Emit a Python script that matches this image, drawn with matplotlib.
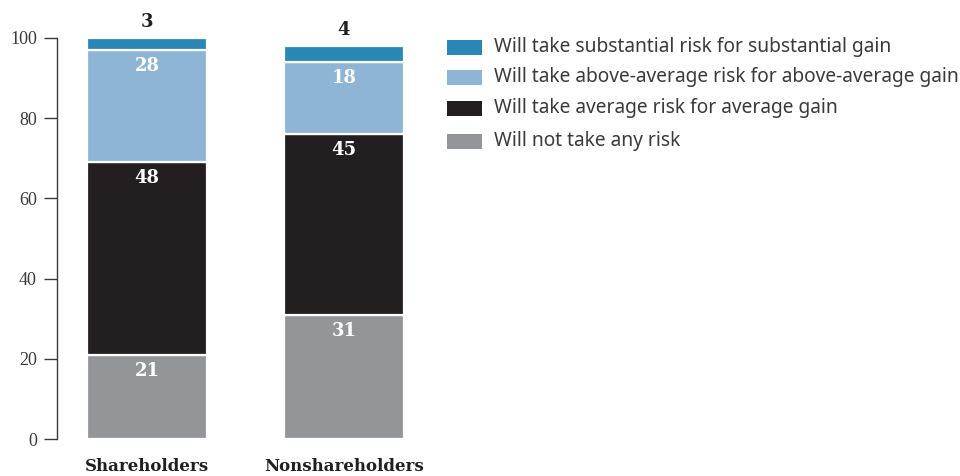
import matplotlib
matplotlib.use("Agg")
import matplotlib.pyplot as plt
from matplotlib.patches import Rectangle

groups = ["Shareholders", "Nonshareholders"]
categories = [
    "Will not take any risk",
    "Will take average risk for average gain",
    "Will take above-average risk for above-average gain",
    "Will take substantial risk for substantial gain",
]
no_risk = [21, 31]
average_risk = [48, 45]
above_average_risk = [28, 18]
substantial_risk = [3, 4]
series = [no_risk, average_risk, above_average_risk, substantial_risk]
colors = ["#939598", "#231f20", "#8fb5d6", "#2a87b5"]
yticks = [0, 20, 40, 60, 80, 100]

W, H = 960, 476
fig = plt.figure(figsize=(W / 100, H / 100), dpi=100)
ax = fig.add_axes([57 / W, 37 / H, 373 / W, 401 / H])

x = list(range(len(groups)))
bottoms = [0] * len(groups)
containers = []
for vals, col in zip(series, colors):
    bc = ax.bar(x, vals, width=0.609, bottom=bottoms, color=col,
                edgecolor="white", linewidth=1.6, zorder=2)
    containers.append(bc)
    bottoms = [b + v for b, v in zip(bottoms, vals)]

ax.set_xlim(-0.457, 1.437)
ax.set_ylim(0, 100)

# value labels: inside near top of each segment, the thin top segment above the bar
for i, (vals, bc) in enumerate(zip(series, containers)):
    for j, (v, rect) in enumerate(zip(vals, bc)):
        top = rect.get_y() + rect.get_height()
        cx = rect.get_x() + rect.get_width() / 2
        if i == len(series) - 1:
            ax.annotate(str(v), (cx, top), xytext=(0, 11.5), textcoords="offset points",
                        ha="center", va="center", fontsize=13, fontweight="bold",
                        family="DejaVu Serif", color="#231f20", annotation_clip=False)
        else:
            ax.annotate(str(v), (cx, top), xytext=(0, -11.5), textcoords="offset points",
                        ha="center", va="center", fontsize=13, fontweight="bold",
                        family="DejaVu Serif", color="white")

for s in ["top", "right", "bottom"]:
    ax.spines[s].set_visible(False)
ax.spines["left"].set_color("#3a3a3a")
ax.spines["left"].set_linewidth(1.0)
ax.spines["left"].set_bounds(0, 100)
ax.set_yticks(yticks)
ax.set_yticklabels([str(t) for t in yticks], family="Liberation Serif",
                   fontsize=13, color="#3a3a3a")
ax.tick_params(axis="y", length=9.5, width=1.0, color="#3a3a3a", pad=5)
ax.set_xticks(x)
ax.set_xticklabels(groups, family="DejaVu Serif", fontweight="bold",
                   fontsize=12, color="#231f20")
ax.tick_params(axis="x", length=0, pad=14)

# legend, top entry first
legend_rows_y = [47, 77, 108, 141]
for yy, bc, label in zip(legend_rows_y, containers[::-1], categories[::-1]):
    fig.patches.append(Rectangle((447 / W, 1 - (yy + 7.5) / H), 35 / W, 15 / H,
                                 transform=fig.transFigure,
                                 facecolor=bc.patches[0].get_facecolor(),
                                 edgecolor="none"))
    fig.text(494 / W, 1 - yy / H, label, ha="left", va="center",
             family="Noto Sans", fontsize=13.8, color="#3a3a3a")

fig.savefig("out.png", dpi=100)
